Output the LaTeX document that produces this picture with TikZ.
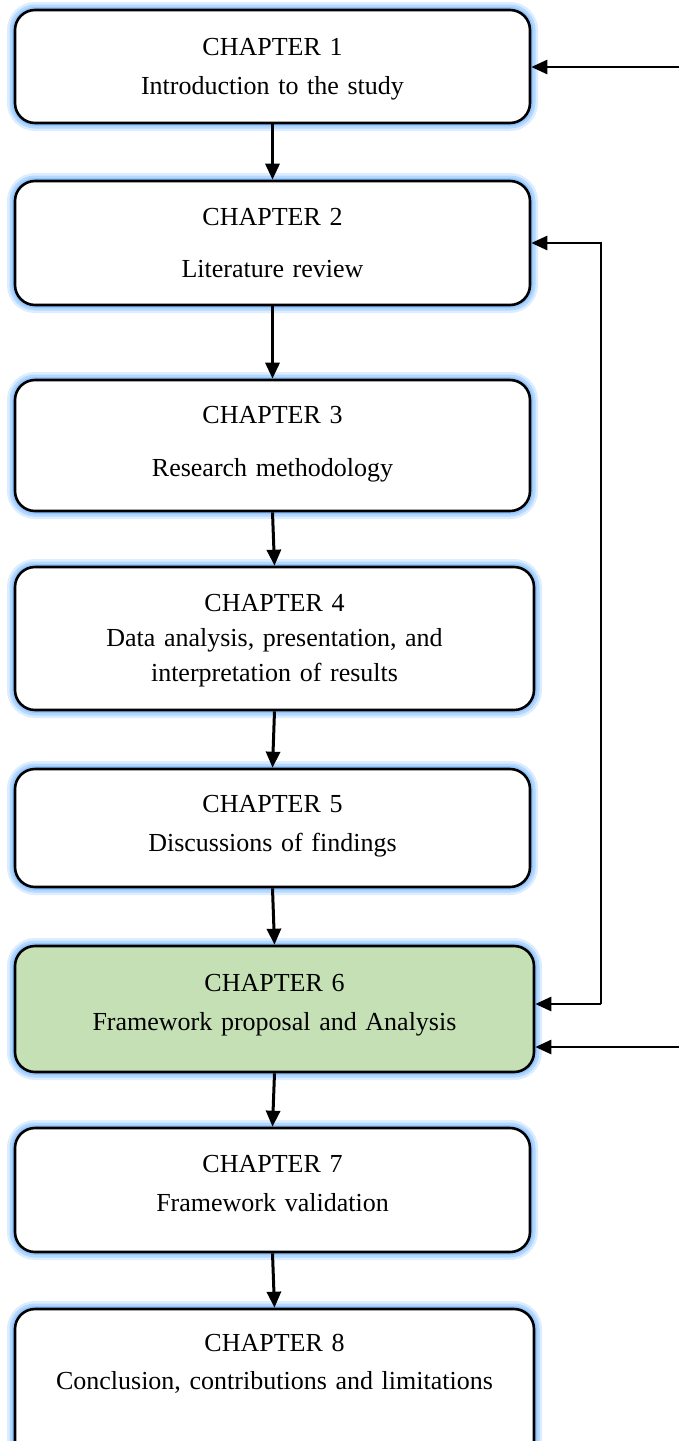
\documentclass[tikz,border=0pt]{standalone}
\usepackage{fontspec}
\setmainfont{Liberation Serif}
\usetikzlibrary{arrows.meta}

\definecolor{glow}{RGB}{140,195,255}
\definecolor{chapgreen}{RGB}{197,224,180}

\tikzset{
  chapter/.style={draw=black, line width=1.3pt, rounded corners=10pt, fill=white,
    inner sep=0pt, minimum width=257.5pt,
    preaction={draw=glow, line width=8pt, opacity=.3},
    preaction={draw=glow, line width=5.5pt, opacity=.5},
    preaction={draw=glow, line width=3pt, opacity=.8}},
  chaptext/.style={anchor=base, text width=255pt, align=center, inner sep=0pt,
    font=\fontsize{13}{19.5}\selectfont},
  flow/.style={line width=1.5pt, -{Triangle[length=8pt,width=7pt]}},
  back/.style={line width=1.3pt, -{Triangle[length=8pt,width=7pt]}}
}

\begin{document}
\begin{tikzpicture}[x=0.5pt,y=-0.5pt]
   \clip (0,0) rectangle (679,1441);

   %boxes
   \node[chapter, minimum height=56.5pt] (b1) at (272.5,66.5) {};
   \node[chapter, minimum height=62pt] (b2) at (272.5,243) {};
   \node[chapter, minimum height=65.5pt] (b3) at (272.5,445.5) {};
   \node[chapter, minimum width=259.5pt, minimum height=71.5pt] (b4) at (274.5,638.5) {};
   \node[chapter, minimum height=59pt] (b5) at (272.5,828) {};
   \node[chapter, fill=chapgreen, minimum width=259.5pt, minimum height=63pt] (b6) at (274.5,1009) {};
   \node[chapter, minimum height=62pt] (b7) at (272.5,1190) {};
   \node[chapter, minimum width=259.5pt, minimum height=80pt] (b8) at (274.5,1389) {};

   %texts
   \node[chaptext] (t1) at (272.5,55) {CHAPTER 1\\Introduction to the study};
   \node[chaptext, font=\fontsize{13}{26}\selectfont] (t2) at (272.5,225) {CHAPTER 2\\Literature review};
   \node[chaptext, font=\fontsize{13}{26.5}\selectfont] (t3) at (272.5,423) {CHAPTER 3\\Research methodology};
   \node[chaptext, font=\fontsize{13}{17.5}\selectfont] (t4) at (274.5,611.5) {CHAPTER 4\\Data analysis, presentation, and\\interpretation of results};
   \node[chaptext] (t5) at (272.5,812) {CHAPTER 5\\Discussions of findings};
   \node[chaptext] (t6) at (274.5,991) {CHAPTER 6\\Framework proposal and Analysis};
   \node[chaptext] (t7) at (272.5,1172) {CHAPTER 7\\Framework validation};
   \node[chaptext, font=\fontsize{13}{19}\selectfont] (t8) at (274.5,1351.5) {CHAPTER 8\\Conclusion, contributions and limitations};

   %arrows down
   \draw[flow] (b1.south) -- (b2.north);
   \draw[flow] (b2.south) -- (b3.north);
   \draw[flow] (b3.south) -- (b4.north);
   \draw[flow] (b4.south) -- (b5.north);
   \draw[flow] (b5.south) -- (b6.north);
   \draw[flow] (b6.south) -- (b7.north);
   \draw[flow] (b7.south) -- (b8.north);

   %arrows back
   \coordinate (r1) at (679,67);
   \coordinate (r2) at (601,243);
   \coordinate (r3) at (601,1004);
   \coordinate (r4) at (679,1047);
   \draw[back] (r1) -- (r1 -| b1.east);
   \draw[back] (r3) -- (r2) -- (r2 -| b2.east);
   \draw[back] (r3) -- (r3 -| b6.east);
   \draw[back] (r4) -- (r4 -| b6.east);
\end{tikzpicture}
\end{document}
